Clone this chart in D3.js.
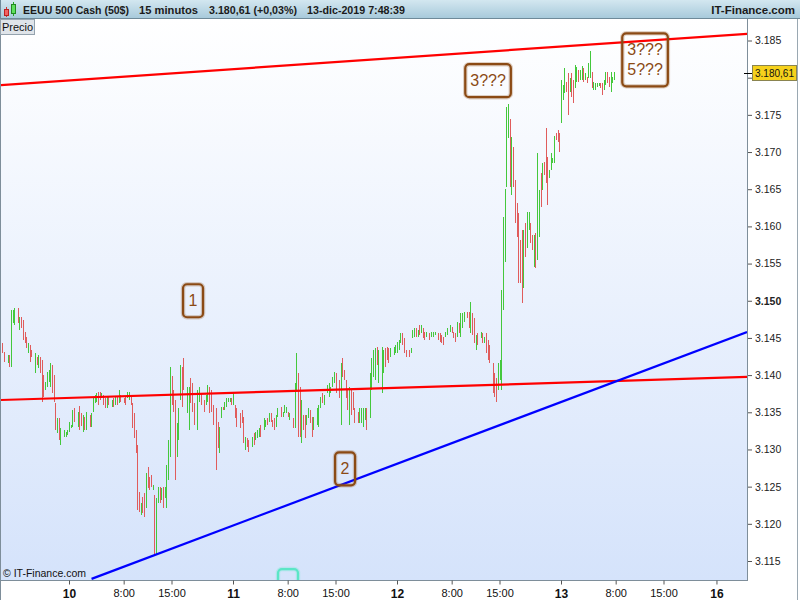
<!DOCTYPE html>
<html>
<head>
<meta charset="utf-8">
<script src="https://cdn.jsdelivr.net/npm/d3@7/dist/d3.min.js"></script>
<style>
html,body{margin:0;padding:0;background:#fff;}
svg{display:block;}
text{font-family:"Liberation Sans",Arial,sans-serif;}
</style>
</head>
<body>
<svg id="chart" width="800" height="600"></svg>
<script>
// ---------- DATA (15-minute bars, quarter-hour index within each day) ----------
const days = [9, 10, 11, 12, 13];
const qtr09 = [57,58,60,61,62,63,64,66,67,68,69,70,71,72,73,74,76,77,78,79,80,81,82,83,84,85,86,87,88,89,90,91,93,94,95];
const high09 = [3144.3,3143.1,3142.7,3142.7,3148.8,3148.8,3149.0,3149.0,3147.8,3147.8,3147.4,3145.8,3145.1,3144.3,3144.0,3143.4,3143.0,3142.4,3142.7,3142.4,3142.0,3140.0,3139.1,3140.4,3140.7,3141.6,3141.4,3140.0,3136.2,3134.2,3134.2,3132.9,3132.6,3132.3,3132.6];
const low09 = [3143.0,3141.8,3141.6,3141.1,3141.1,3147.0,3146.7,3147.0,3146.1,3146.3,3144.7,3144.3,3143.6,3143.0,3141.8,3142.4,3140.3,3141.4,3140.9,3140.3,3136.4,3137.1,3138.0,3138.4,3139.1,3138.4,3137.6,3136.4,3132.6,3132.2,3131.3,3130.6,3131.7,3131.7,3131.9];
const up09 = [0,0,1,0,1,1,1,0,1,0,0,0,0,1,0,0,1,0,1,0,0,0,1,1,1,1,0,0,0,1,0,1,1,1,1];

const qtr10 = [0,1,2,3,5,6,7,8,9,10,12,13,14,15,16,17,18,19,20,21,22,23,25,26,27,28,29,30,32,33,34,35,36,37,38,39,40,41,42,43,44,45,46,47,48,49,50,51,52,53,54,55,56,57,58,59,60,61,62,63,64,65,66,67,69,70,71,72,73,75,76,77,79,80,81,82,83,84,86,87,88,89,90,91,92,93,94,95];
const high10 = [3133.7,3133.3,3135.3,3135.6,3135.0,3135.8,3134.9,3134.6,3134.4,3135.0,3134.6,3134.9,3136.9,3137.3,3137.6,3137.7,3137.7,3137.6,3137.3,3136.9,3137.1,3137.1,3136.6,3136.9,3137.1,3137.2,3138.0,3137.3,3136.9,3137.1,3137.7,3137.7,3137.2,3136.2,3134.9,3132.6,3130.6,3124.3,3122.8,3123.6,3124.1,3126.9,3127.6,3126.3,3126.6,3125.2,3123.9,3123.5,3124.9,3124.9,3124.8,3124.9,3124.9,3127.9,3131.3,3141.1,3139.9,3138.0,3136.6,3133.6,3135.6,3141.4,3141.1,3142.3,3138.4,3138.4,3139.6,3138.9,3136.2,3138.0,3138.4,3137.6,3136.6,3137.3,3138.7,3138.4,3138.0,3136.0,3135.6,3133.7,3133.0,3135.7,3135.7,3136.4,3136.9,3136.9,3136.9,3136.9];
const low10 = [3132.3,3132.9,3133.0,3133.7,3133.0,3132.6,3133.2,3132.3,3132.6,3132.6,3133.0,3133.0,3135.0,3136.2,3136.4,3136.0,3136.6,3136.9,3136.0,3135.6,3135.6,3136.0,3135.7,3135.7,3136.0,3136.0,3136.2,3136.4,3136.2,3136.0,3136.9,3136.6,3136.0,3132.9,3131.5,3129.5,3121.9,3121.6,3121.2,3121.5,3120.9,3122.1,3124.8,3124.5,3124.9,3124.5,3115.8,3115.8,3122.8,3122.8,3123.2,3122.1,3123.5,3122.1,3125.9,3129.0,3136.0,3135.0,3125.9,3129.0,3131.3,3136.6,3135.7,3138.0,3134.9,3132.6,3136.2,3135.0,3133.3,3132.6,3136.4,3136.0,3135.0,3136.0,3136.4,3134.9,3135.0,3133.3,3127.2,3130.2,3129.5,3134.2,3135.3,3135.3,3135.7,3136.4,3136.4,3136.0];
const up10 = [1,1,1,0,1,0,0,1,0,1, 0,1,1,1,1,0,0,1,0,0, 1,0,1,0,1,0,1,0,0,0, 1,1,0,0,0,0,0,0,1,0, 0,1,0,0,0,1,0,1,1,0, 1,0,1,1,1,1,0,0,0,1, 1,1,0,0,1,1,0,0,0,1, 1,0,0,1,1,0,0,0,0,0, 1,1,0,1,1,1,1,0];

const qtr11 = [0,1,2,4,5,6,7,8,9,11,12,13,14,15,16,18,19,20,21,22,23,24,25,26,28,29,30,31,32,33,35,36,37,38,39,40,41,42,43,44,45,46,47,49,50,51,52,53,55,56,57,58,59,60,62,63,64,65,66,67,68,69,70,71,73,74,75,76,77,78,80,81,82,83,84,85,87,88,89,90,91,92,94,95];
const high11 = [3137.6,3136.0,3135.6,3134.9,3135.3,3134.4,3131.7,3131.5,3131.3,3131.7,3132.2,3132.3,3132.6,3132.9,3133.3,3134.2,3133.9,3134.2,3134.9,3134.9,3133.9,3134.2,3134.6,3135.6,3135.7,3135.0,3136.0,3135.7,3135.0,3134.9,3134.2,3138.9,3143.0,3140.3,3138.4,3136.6,3134.6,3134.6,3134.6,3135.6,3135.3,3134.4,3134.4,3135.6,3136.0,3137.1,3137.6,3137.3,3138.7,3138.9,3138.4,3139.7,3140.4,3140.3,3139.3,3141.6,3142.3,3140.7,3139.3,3138.0,3138.4,3138.0,3137.7,3135.6,3135.0,3135.6,3135.6,3135.6,3135.6,3135.6,3140.3,3142.3,3143.4,3143.6,3143.8,3143.4,3143.8,3143.4,3143.6,3143.8,3143.6,3143.6,3143.8,3144.0];
const low11 = [3136.0,3134.2,3133.0,3132.9,3133.6,3130.9,3129.9,3130.3,3129.6,3130.3,3130.6,3131.3,3131.5,3131.7,3131.7,3132.6,3133.0,3133.3,3133.7,3133.7,3133.0,3132.6,3133.0,3134.4,3134.4,3134.4,3134.9,3134.9,3134.4,3133.9,3132.9,3132.9,3138.0,3131.7,3131.7,3130.9,3132.6,3131.5,3133.3,3134.2,3133.6,3131.7,3132.6,3133.3,3133.0,3135.6,3136.2,3136.0,3137.6,3137.1,3137.6,3138.4,3138.9,3137.6,3136.9,3133.3,3139.7,3139.3,3136.9,3135.3,3133.3,3134.6,3135.3,3133.6,3133.6,3133.6,3133.6,3133.0,3133.9,3132.6,3134.2,3138.0,3139.7,3139.3,3141.4,3138.9,3137.6,3140.3,3141.1,3142.0,3141.6,3142.4,3142.7,3143.0];
const up11 = [1,0,0,0,0,0,1,0,0,1, 0,1,1,1,0,1,1,0,1,0, 0,0,1,1,0,1,1,1,0,1, 0,1,1,0,0,1,0,0,1,1, 0,0,1,1,1,1,0,1,1,1, 1,1,1,0,0,1,0,0,0,0, 1,0,0,0,0,1,1,1,1,0, 1,1,1,1,0,1,1,1,0,0, 0,1,1,1];

const qtr12 = [0,1,2,3,4,5,7,8,9,10,11,12,13,14,15,16,17,19,20,21,22,24,25,26,27,28,29,31,32,33,34,35,36,37,38,39,41,42,43,44,45,46,47,49,50,51,52,53,54,56,57,58,59,60,61,62,63,64,65,66,67,68,69,70,71,72,73,74,75,76,77,78,79,80,81,82,83,84,85,86,87,88,89,90,91,92,93,94,95];
const high12 = [3144.5,3144.7,3145.7,3145.7,3145.0,3143.4,3143.4,3143.6,3146.1,3146.3,3146.3,3146.1,3146.7,3146.7,3146.3,3145.8,3145.8,3145.7,3145.8,3145.8,3145.8,3145.7,3145.7,3145.4,3145.1,3145.8,3146.3,3146.7,3146.5,3145.8,3145.7,3147.1,3147.0,3148.4,3148.4,3148.5,3148.5,3148.5,3149.8,3148.4,3147.7,3145.4,3145.7,3145.8,3145.7,3145.1,3145.7,3144.7,3144.0,3141.6,3140.3,3139.6,3141.6,3142.0,3151.4,3161.3,3165.0,3176.1,3176.5,3174.4,3172.0,3170.7,3166.2,3163.2,3161.8,3158.2,3159.5,3159.5,3160.5,3161.9,3161.9,3160.5,3158.8,3158.8,3159.1,3169.9,3164.9,3167.2,3168.5,3168.7,3173.2,3169.3,3167.6,3169.9,3169.2,3172.2,3172.6,3172.9,3172.6];
const low12 = [3143.0,3143.4,3144.3,3144.0,3143.0,3142.4,3142.4,3143.0,3145.0,3145.1,3145.1,3145.1,3145.4,3145.7,3145.0,3144.7,3145.1,3144.7,3145.1,3145.1,3145.4,3144.7,3144.5,3144.3,3144.0,3145.1,3145.4,3145.8,3145.7,3145.0,3144.5,3145.1,3145.7,3145.1,3146.3,3147.1,3147.7,3146.3,3145.7,3145.4,3144.3,3143.4,3144.0,3145.0,3144.3,3144.3,3143.0,3142.0,3141.6,3137.6,3137.1,3136.4,3138.0,3139.3,3138.0,3148.8,3155.2,3165.3,3171.9,3165.3,3164.2,3165.3,3160.4,3158.6,3152.4,3152.4,3149.7,3151.7,3155.9,3157.1,3159.5,3157.8,3156.8,3154.5,3154.4,3155.5,3158.6,3162.6,3164.9,3166.9,3165.8,3162.9,3166.5,3167.6,3168.5,3168.5,3171.6,3171.4,3170.0];
const up12 = [1,1,1,0,0,0,0,1,1,1, 0,1,0,1,0,0,1,0,1,1, 1,0,0,0,0,1,1,1,0,0, 0,1,0,1,1,1,0,0,1,0, 0,1,0,1,0,1,0,0,0,0, 0,0,1,1,1,1,1,1,1,0, 1,0,0,0,0,0,0,1,0,1, 1,0,0,1,0,1,1,0,1,0, 0,0,1,1,1,1,0,0,0];

const qtr13 = [0,1,2,3,4,5,6,7,8,9,10,11,12,13,14,15,16,17,18,19,20,21,22,23,24,25,26,27,28,29,30,31];
const high13 = [3179.7,3179.0,3181.3,3179.4,3180.6,3180.0,3180.6,3179.7,3181.7,3181.4,3181.0,3181.0,3181.6,3181.3,3180.6,3180.1,3182.0,3183.6,3180.8,3179.4,3179.3,3179.3,3179.3,3179.3,3179.3,3179.7,3180.8,3180.8,3180.1,3180.8,3180.1,3180.8];
const low13 = [3173.9,3177.0,3177.9,3178.1,3175.0,3178.1,3177.4,3176.6,3178.6,3179.4,3179.4,3179.7,3179.7,3179.4,3179.7,3179.3,3180.0,3180.0,3178.6,3178.3,3178.3,3178.8,3178.9,3178.6,3177.7,3178.3,3179.0,3179.3,3178.8,3178.1,3179.3,3179.7];
const up13 = [1,1,1,0,0,1,0,0,1,1, 0,1,1,0,1,0,1,1,0,1, 1,1,1,0,0,1,1,0,0,1, 1,1];

// axis ticks
const priceTicks = [3115,3120,3125,3130,3135,3140,3145,3150,3155,3160,3165,3170,3175,3180,3185];
const boldPrice = 3150;
const timeTickSlots = [96,128,156,192,224,252,288,320,348,384,416,444,475];
const timeTickLabels = ["10","8:00","15:00","11","8:00","15:00","12","8:00","15:00","13","8:00","15:00","16"];
const timeTickMajor = [1,0,0,1,0,0,1,0,0,1,0,0,1];
const lastPrice = 3180.61;

// trend lines: [slot, price] end points
const upperRed = [[55.6,3179.0],[492.9,3185.9]];
const lowerRed = [[55.6,3136.65],[492.9,3139.75]];
const blueLine = [[109.2,3112.6],[492.9,3145.8]];

// annotations
const noteLines = [["1"],["2"],["3???"],["3???","5???"],[""]];
const noteSlot = [168.6,257.6,341.3,433.2,224.2];
const notePrice = [3150.0,3127.4,3179.6,3182.4,3111.7];
const noteColor = ["#8b4a14","#8b4a14","#8b4a14","#8b4a14","#5be6c6"];

// header texts
const headerTexts = ["EEUU 500 Cash (50$)","15 minutos","3.180,61 (+0,03%)","13-dic-2019 7:48:39"];
const brand = "IT-Finance.com";

// ---------- BUILD ----------
const qtrs = [qtr09,qtr10,qtr11,qtr12,qtr13];
const highs = [high09,high10,high11,high12,high13];
const lows = [low09,low10,low11,low12,low13];
const ups = [up09,up10,up11,up12,up13];
const bars = [];
days.forEach((d,di)=>{
  qtrs[di].forEach((q,i)=>{
    bars.push({slot:(d-9)*96+q, h:highs[di][i], l:lows[di][i], up:ups[di][i]});
  });
});

const plotL=1, plotR=747, plotT=19, plotB=580;
const x = d3.scaleLinear().domain([96,384]).range([69,561]);
const y = d3.scaleLinear().domain([3115,3185]).range([561,40.5]);
const loc = d3.formatLocale({decimal:",",thousands:".",grouping:[3],currency:["",""]});
const fmtInt = loc.format(",.0f");
const fmt2 = loc.format(",.2f");

const svg = d3.select("#chart");
const defs = svg.append("defs");
const gHead = defs.append("linearGradient").attr("id","gHead").attr("x1",0).attr("y1",0).attr("x2",0).attr("y2",1);
gHead.append("stop").attr("offset","0%").attr("stop-color","#d3e7f0");
gHead.append("stop").attr("offset","100%").attr("stop-color","#a8cadb");
const gPlot = defs.append("linearGradient").attr("id","gPlot").attr("x1",0).attr("y1",0).attr("x2",0).attr("y2",1);
gPlot.append("stop").attr("offset","0%").attr("stop-color","#ffffff");
gPlot.append("stop").attr("offset","100%").attr("stop-color","#d5e3fb");
defs.append("clipPath").attr("id","clipPlot").append("rect")
  .attr("x",plotL).attr("y",plotT).attr("width",plotR-plotL).attr("height",plotB-plotT);

svg.append("rect").attr("width",800).attr("height",600).attr("fill","#ffffff");
svg.append("rect").attr("x",plotL).attr("y",plotT).attr("width",plotR-plotL).attr("height",plotB-plotT).attr("fill","url(#gPlot)");

const plot = svg.append("g").attr("clip-path","url(#clipPlot)");

// bars
plot.append("g").attr("shape-rendering","crispEdges").selectAll("line").data(bars).join("line")
  .attr("x1",d=>Math.round(x(d.slot))+0.5).attr("x2",d=>Math.round(x(d.slot))+0.5)
  .attr("y1",d=>Math.round(y(d.h)))
  .attr("y2",d=>Math.max(Math.round(y(d.l)), Math.round(y(d.h))+2))
  .attr("stroke",d=>d.up?"#44c83c":"#e05c5c").attr("stroke-width",1);

// trend lines
const lineGen = d3.line().x(d=>x(d[0])).y(d=>y(d[1]));
[[upperRed,"#ff0000"],[lowerRed,"#ff0000"],[blueLine,"#0000ff"]].forEach(([pts,col])=>{
  plot.append("path").attr("d",lineGen(pts)).attr("fill","none").attr("stroke",col).attr("stroke-width",2.2);
});

// annotations
noteLines.forEach((lines,i)=>{
  const g = plot.append("g");
  const cx = x(noteSlot[i]), cy = y(notePrice[i]);
  const t = g.append("text").attr("font-size",16).attr("fill",noteColor[i]).attr("text-anchor","middle");
  lines.forEach((ln,k)=>{
    t.append("tspan").attr("x",cx).attr("y",cy - (lines.length-1)*10 + k*20 + 5.5).text(ln);
  });
  let tw = 0;
  t.selectAll("tspan").each(function(){ tw = Math.max(tw, this.getComputedTextLength()); });
  const bw = Math.max(20, tw + 10), bh = 13 + 20*lines.length;
  g.insert("rect","text").attr("x",cx-bw/2).attr("y",cy-bh/2).attr("width",bw).attr("height",bh)
    .attr("rx",4).attr("fill","none").attr("stroke",noteColor[i]).attr("stroke-opacity",0.25).attr("stroke-width",4.5);
  g.insert("rect","text").attr("x",cx-bw/2).attr("y",cy-bh/2).attr("width",bw).attr("height",bh)
    .attr("rx",4).attr("fill","none").attr("stroke",noteColor[i]).attr("stroke-width",2.2);
});

// copyright
plot.append("text").attr("x",3).attr("y",577).attr("font-size",10.5).attr("fill","#111").text("\u00a9 IT-Finance.com");

// plot borders
svg.append("line").attr("x1",plotR+0.5).attr("x2",plotR+0.5).attr("y1",plotT).attr("y2",plotB+0.5).attr("stroke","#7e8e9a");
svg.append("line").attr("x1",0).attr("x2",plotR+1).attr("y1",plotB+0.5).attr("y2",plotB+0.5).attr("stroke","#7e8e9a");
svg.append("line").attr("x1",0.5).attr("x2",0.5).attr("y1",plotT).attr("y2",600).attr("stroke","#7e8e9a");
svg.append("line").attr("x1",797.5).attr("x2",797.5).attr("y1",0).attr("y2",600).attr("stroke","#9aa8b2");

// y axis (label at the last price level is covered by the price box, as in the original)
const yAxis = svg.append("g").attr("transform",`translate(${plotR+1},0)`)
  .call(d3.axisRight(y).tickValues(priceTicks).tickSize(4).tickPadding(3)
    .tickFormat(d=>Math.abs(d-lastPrice)<3 ? "" : fmtInt(d)));
yAxis.select(".domain").remove();
yAxis.selectAll(".tick line").attr("stroke","#555");
yAxis.selectAll(".tick text").attr("font-size",10.5).attr("fill","#222")
  .attr("font-family","'Liberation Sans',Arial,sans-serif")
  .attr("font-weight",d=>d===boldPrice?"bold":"normal");

// x axis
const xAxis = svg.append("g").attr("transform",`translate(0,${plotB+0.5})`)
  .call(d3.axisBottom(x).tickValues(timeTickSlots).tickSize(4).tickPadding(5).tickFormat((d,i)=>timeTickLabels[i]));
xAxis.select(".domain").remove();
xAxis.selectAll(".tick line").attr("stroke","#555");
xAxis.selectAll(".tick text").attr("fill","#111")
  .attr("font-family","'Liberation Sans',Arial,sans-serif")
  .attr("font-size",(d,i)=>timeTickMajor[i]?12:11)
  .attr("font-weight",(d,i)=>timeTickMajor[i]?"bold":"normal");

// last price marker
const ly = y(lastPrice);
svg.append("line").attr("x1",744).attr("x2",753).attr("y1",Math.round(ly)+0.5).attr("y2",Math.round(ly)+0.5).attr("stroke","#000");
svg.append("rect").attr("x",752.5).attr("y",Math.round(ly)-7.5).attr("width",44).attr("height",15)
  .attr("fill","#f6d11c").attr("stroke","#8a8450");
svg.append("text").attr("x",774.5).attr("y",Math.round(ly)+4).attr("text-anchor","middle")
  .attr("font-size",10).attr("fill","#111").text(fmt2(lastPrice));

// header
svg.append("rect").attr("x",0).attr("y",0).attr("width",800).attr("height",18).attr("fill","url(#gHead)");
svg.append("line").attr("x1",0).attr("x2",800).attr("y1",18.5).attr("y2",18.5).attr("stroke","#6f8a99");
svg.append("line").attr("x1",0.5).attr("x2",0.5).attr("y1",0).attr("y2",18).attr("stroke","#6f8a99");
svg.append("line").attr("x1",6.5).attr("x2",6.5).attr("y1",7).attr("y2",17).attr("stroke","#c33");
svg.append("rect").attr("x",4.5).attr("y",9.5).attr("width",4).attr("height",6).attr("fill","#f06262").attr("stroke","#b22");
svg.append("line").attr("x1",13.5).attr("x2",13.5).attr("y1",2).attr("y2",16).attr("stroke","#2a2");
svg.append("rect").attr("x",11.5).attr("y",4.5).attr("width",4).attr("height",9).attr("fill","#5ee05e").attr("stroke","#282");
const headerX = [23,139,209,307];
const headerW = [106,59,88,98];
headerTexts.forEach((t,i)=>{
  svg.append("text").attr("x",headerX[i]).attr("y",14).attr("font-size",11).attr("font-weight","bold")
    .attr("fill","#1b1b1b").attr("textLength",headerW[i]).attr("lengthAdjust","spacingAndGlyphs").text(t);
});
svg.append("text").attr("x",795).attr("y",14).attr("text-anchor","end").attr("font-size",11.5).attr("font-weight","bold").attr("fill","#1b1b1b").text(brand);

// "Precio" label
svg.append("rect").attr("x",0.5).attr("y",19.5).attr("width",34).attr("height",15).attr("fill","#dfe4e9").attr("stroke","#95a3ae");
svg.append("text").attr("x",2).attr("y",31).attr("font-size",11).attr("fill","#111").text("Precio");
</script>
</body>
</html>
